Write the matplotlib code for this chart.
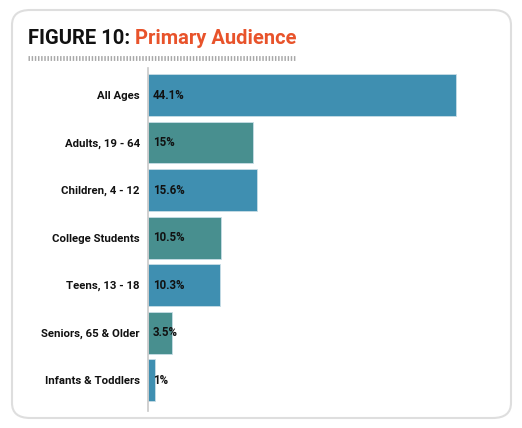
import matplotlib.pyplot as plt
from matplotlib.patches import FancyBboxPatch

categories = ['All Ages', 'Adults, 19 - 64', 'Children, 4 - 12', 'College Students',
              'Teens, 13 - 18', 'Seniors, 65 & Older', 'Infants & Toddlers']
values = [44.1, 15, 15.6, 10.5, 10.3, 3.5, 1]
value_labels = ['44.1%', '15%', '15.6%', '10.5%', '10.3%', '3.5%', '1%']

blue = '#3f8fb1'
teal = '#488f8f'
bar_colors = [blue if i % 2 == 0 else teal for i in range(len(values))]

W, H = 522, 428
fig = plt.figure(figsize=(W / 100, H / 100), dpi=100)
fig.patch.set_facecolor('white')

# rounded card frame
card = FancyBboxPatch((12 / W, 10 / H), (511 - 12) / W, (418 - 10) / H,
                      boxstyle='round,pad=0,rounding_size=0.035',
                      transform=fig.transFigure, facecolor='white',
                      edgecolor='#dedede', linewidth=1.5, zorder=-5)
fig.patches.append(card)

# title
t1 = fig.text(28 / W, 1 - 38 / H, 'FIGURE 10: ', fontsize=14.5, fontweight='bold',
              color='#111111', family='Roboto', va='center', ha='left')
fig.canvas.draw()
bb = t1.get_window_extent()
fig.text(bb.x1 / W, 1 - 38 / H, 'Primary Audience', fontsize=14.5, fontweight='bold',
         color='#e8532b', family='Roboto', va='center', ha='left')

# hatched underline
fig.add_artist(plt.Line2D([28 / W, 295 / W], [1 - 58 / H, 1 - 58 / H],
                          transform=fig.transFigure, color='#a8a8a8',
                          linewidth=3.5, dashes=(0.3, 0.35)))

# axes
ax = fig.add_axes([148 / W, 1 - 411 / H, (470 - 148) / W, (411 - 68) / H], zorder=2)
y = list(range(len(values)))
ax.barh(y, values, height=0.88, color=bar_colors, edgecolor='#c8dde6', linewidth=0.6)
ax.set_ylim(6.65, -0.57)
ax.set_xlim(0, 46.1)

for yi, v, lab in zip(y, values, value_labels):
    ax.text(0.7, yi, lab, va='center', ha='left', fontsize=8.3, fontweight='bold',
            color='#111111', family='Roboto')

ax.set_yticks(y)
ax.set_yticklabels(categories, fontsize=8.2, fontweight='bold', family='Roboto', color='#111111')
ax.tick_params(axis='y', length=0, pad=6)
ax.set_xticks([])
for s in ['top', 'right', 'bottom']:
    ax.spines[s].set_visible(False)
ax.spines['left'].set_color('#c8c8c8')
ax.spines['left'].set_linewidth(1.2)
ax.patch.set_alpha(0)

fig.savefig('out.png', dpi=100)
